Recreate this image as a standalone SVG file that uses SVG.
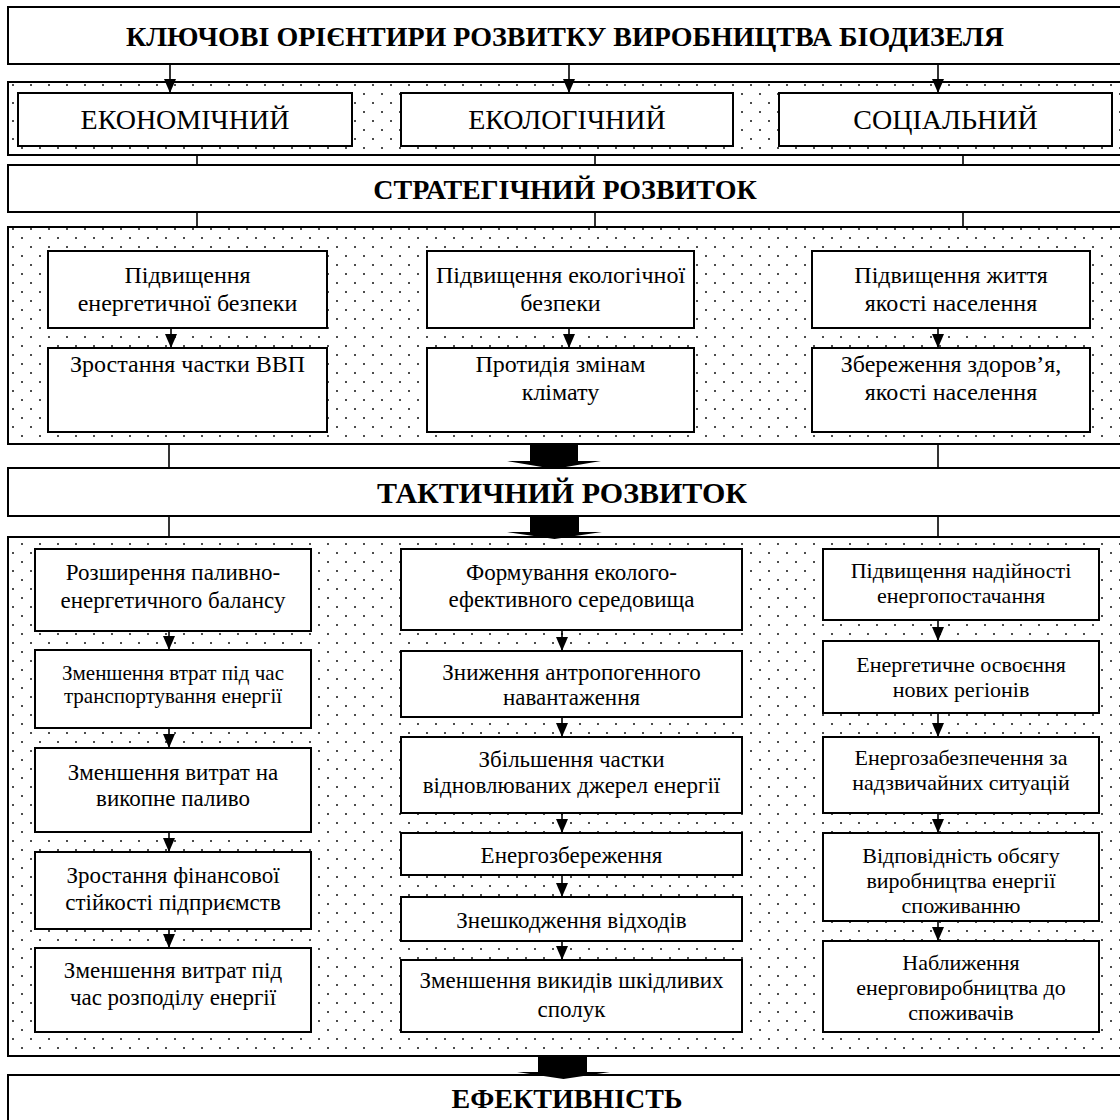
<svg xmlns="http://www.w3.org/2000/svg" width="1120" height="1120" viewBox="0 0 1120 1120">
<style>
.box{fill:#fff;stroke:#000;stroke-width:2}
.band{fill:url(#dots);stroke:#000;stroke-width:2}
.ln{stroke:#000;stroke-width:1.6;fill:none}
.ar{stroke:#000;stroke-width:1.6;fill:none;marker-end:url(#ah)}
.blk{fill:#000;stroke:none}
text{text-anchor:middle;fill:#000}
.h{font-weight:bold;font-size:28px}
.ht{font-weight:bold;font-size:30px}
.k{font-size:28px}
.m{font-size:24px}
.n{font-size:23px}
.c{font-size:22px}
.s{font-size:21px}
</style>
<defs>
<pattern id="dots" width="18" height="18" patternUnits="userSpaceOnUse">
<rect width="18" height="18" fill="#fff"/>
<circle cx="4" cy="4" r="1" fill="#111"/>
<circle cx="13" cy="13" r="1" fill="#111"/>
</pattern>
<marker id="ah" viewBox="0 0 14 13" refX="14" refY="6.5" markerWidth="14" markerHeight="13" markerUnits="userSpaceOnUse" orient="auto">
<path d="M0,0.5 L14,6.5 L0,12.5 z" fill="#000"/>
</marker>
</defs>
<g font-family="'Liberation Serif', 'Times New Roman', serif">
<!-- bands -->
<g id="band1"><rect class="band" x="8" y="82" width="1116" height="73"/></g>
<g id="band2"><rect class="band" x="8" y="227" width="1116" height="217"/></g>
<g id="band3"><rect class="band" x="8" y="537" width="1116" height="519"/></g>

<!-- headers -->
<g id="title"><rect class="box" x="8" y="7" width="1116" height="57"/>
<text class="h" x="565" y="46">КЛЮЧОВІ ОРІЄНТИРИ РОЗВИТКУ ВИРОБНИЦТВА БІОДИЗЕЛЯ</text></g>
<g id="strategic"><rect class="box" x="8" y="165" width="1116" height="47"/>
<text class="h" x="565" y="199">СТРАТЕГІЧНИЙ РОЗВИТОК</text></g>
<g id="tactical"><rect class="box" x="8" y="468" width="1116" height="48"/>
<text class="ht" x="562" y="503">ТАКТИЧНИЙ РОЗВИТОК</text></g>
<g id="efficiency"><rect class="box" x="8" y="1075" width="1116" height="60"/>
<text class="h" x="567" y="1108">ЕФЕКТИВНІСТЬ</text></g>

<!-- band1 nodes -->
<g id="econ"><rect class="box" x="18" y="93" width="334" height="53"/><text class="k" x="185" y="129">ЕКОНОМІЧНИЙ</text></g>
<g id="ecol"><rect class="box" x="401" y="93" width="332" height="53"/><text class="k" x="567" y="129">ЕКОЛОГІЧНИЙ</text></g>
<g id="soc"><rect class="box" x="779" y="93" width="333" height="53"/><text class="k" x="945.5" y="129">СОЦІАЛЬНИЙ</text></g>

<!-- band2 nodes -->
<g id="s_a1"><rect class="box" x="48" y="251" width="279" height="77"/><text class="m" x="187.5" y="283">Підвищення</text><text class="m" x="187.5" y="311">енергетичної безпеки</text></g>
<g id="s_a2"><rect class="box" x="48" y="348" width="279" height="84"/><text class="m" x="187.5" y="372">Зростання частки ВВП</text></g>
<g id="s_b1"><rect class="box" x="427" y="251" width="267" height="77"/><text class="m" x="560.5" y="283">Підвищення екологічної</text><text class="m" x="560.5" y="311">безпеки</text></g>
<g id="s_b2"><rect class="box" x="427" y="348" width="267" height="84"/><text class="m" x="560.5" y="372">Протидія змінам</text><text class="m" x="560.5" y="400">клімату</text></g>
<g id="s_c1"><rect class="box" x="812" y="251" width="278" height="77"/><text class="m" x="951" y="283">Підвищення життя</text><text class="m" x="951" y="311">якості населення</text></g>
<g id="s_c2"><rect class="box" x="812" y="348" width="278" height="84"/><text class="m" x="951" y="372">Збереження здоров’я,</text><text class="m" x="951" y="400">якості населення</text></g>

<!-- band3 column A -->
<g id="t_a1"><rect class="box" x="35" y="549" width="276" height="82"/><text class="n" x="173" y="580">Розширення паливно-</text><text class="n" x="173" y="608">енергетичного балансу</text></g>
<g id="t_a2"><rect class="box" x="35" y="650" width="276" height="78"/><text class="s" x="173" y="680">Зменшення втрат під час</text><text class="s" x="173" y="703">транспортування енергії</text></g>
<g id="t_a3"><rect class="box" x="35" y="748" width="276" height="84"/><text class="n" x="173" y="780">Зменшення витрат на</text><text class="n" x="173" y="806">викопне паливо</text></g>
<g id="t_a4"><rect class="box" x="35" y="852" width="276" height="77"/><text class="n" x="173" y="883">Зростання фінансової</text><text class="n" x="173" y="910">стійкості підприємств</text></g>
<g id="t_a5"><rect class="box" x="35" y="948" width="276" height="84"/><text class="n" x="173" y="978">Зменшення витрат під</text><text class="n" x="173" y="1005">час розподілу енергії</text></g>

<!-- band3 column B -->
<g id="t_b1"><rect class="box" x="401" y="549" width="341" height="81"/><text class="n" x="571.5" y="580">Формування еколого-</text><text class="n" x="571.5" y="607">ефективного середовища</text></g>
<g id="t_b2"><rect class="box" x="401" y="651" width="341" height="66"/><text class="n" x="571.5" y="680">Зниження антропогенного</text><text class="n" x="571.5" y="705">навантаження</text></g>
<g id="t_b3"><rect class="box" x="401" y="737" width="341" height="76"/><text class="n" x="571.5" y="767">Збільшення частки</text><text class="n" x="571.5" y="793">відновлюваних джерел енергії</text></g>
<g id="t_b4"><rect class="box" x="401" y="833" width="341" height="42"/><text class="n" x="571.5" y="863">Енергозбереження</text></g>
<g id="t_b5"><rect class="box" x="401" y="897" width="341" height="44"/><text class="n" x="571.5" y="928">Знешкодження відходів</text></g>
<g id="t_b6"><rect class="box" x="401" y="960" width="341" height="72"/><text class="n" x="571.5" y="988">Зменшення викидів шкідливих</text><text class="n" x="571.5" y="1017">сполук</text></g>

<!-- band3 column C -->
<g id="t_c1"><rect class="box" x="823" y="549" width="276" height="71"/><text class="c" x="961" y="578">Підвищення надійності</text><text class="c" x="961" y="603">енергопостачання</text></g>
<g id="t_c2"><rect class="box" x="823" y="641" width="276" height="72"/><text class="c" x="961" y="672">Енергетичне освоєння</text><text class="c" x="961" y="697">нових регіонів</text></g>
<g id="t_c3"><rect class="box" x="823" y="737" width="276" height="76"/><text class="c" x="961" y="765">Енергозабезпечення за</text><text class="c" x="961" y="790">надзвичайних ситуацій</text></g>
<g id="t_c4"><rect class="box" x="823" y="833" width="276" height="88"/><text class="c" x="961" y="863">Відповідність обсягу</text><text class="c" x="961" y="888">виробництва енергії</text><text class="c" x="961" y="913">споживанню</text></g>
<g id="t_c5"><rect class="box" x="823" y="941" width="276" height="91"/><text class="c" x="961" y="970">Наближення</text><text class="c" x="961" y="995">енерговиробництва до</text><text class="c" x="961" y="1020">споживачів</text></g>

<!-- connectors -->
<g id="connectors">
<line class="ar" x1="170" y1="64" x2="170" y2="93"/>
<line class="ar" x1="569" y1="64" x2="569" y2="93"/>
<line class="ar" x1="938" y1="64" x2="938" y2="93"/>
<line class="ln" x1="197" y1="155" x2="197" y2="165"/>
<line class="ln" x1="595" y1="155" x2="595" y2="165"/>
<line class="ln" x1="963" y1="155" x2="963" y2="165"/>
<line class="ln" x1="197" y1="212" x2="197" y2="227"/>
<line class="ln" x1="595" y1="212" x2="595" y2="227"/>
<line class="ln" x1="963" y1="212" x2="963" y2="227"/>
<line class="ar" x1="171" y1="328" x2="171" y2="348"/>
<line class="ar" x1="569" y1="328" x2="569" y2="348"/>
<line class="ar" x1="938" y1="328" x2="938" y2="348"/>
<line class="ln" x1="169" y1="444" x2="169" y2="468"/>
<line class="ln" x1="938" y1="444" x2="938" y2="468"/>
<line class="ln" x1="169" y1="516" x2="169" y2="537"/>
<line class="ln" x1="938" y1="516" x2="938" y2="537"/>
<line class="ar" x1="169" y1="631" x2="169" y2="650"/>
<line class="ar" x1="169" y1="728" x2="169" y2="748"/>
<line class="ar" x1="169" y1="832" x2="169" y2="852"/>
<line class="ar" x1="169" y1="929" x2="169" y2="948"/>
<line class="ar" x1="562" y1="630" x2="562" y2="651"/>
<line class="ar" x1="562" y1="717" x2="562" y2="737"/>
<line class="ar" x1="562" y1="813" x2="562" y2="833"/>
<line class="ar" x1="562" y1="875" x2="562" y2="897"/>
<line class="ar" x1="562" y1="941" x2="562" y2="960"/>
<line class="ar" x1="938" y1="620" x2="938" y2="641"/>
<line class="ar" x1="938" y1="713" x2="938" y2="737"/>
<line class="ar" x1="938" y1="813" x2="938" y2="833"/>
<line class="ar" x1="938" y1="921" x2="938" y2="941"/>
<polygon class="blk" points="530,444 578,444 578,461 601,461 554,469 507,461 530,461"/>
<polygon class="blk" points="530,516 579,516 579,532 602,532 554.5,539 507,532 530,532"/>
<polygon class="blk" points="538,1056 587,1056 587,1072 610,1072 563.5,1079 517,1072 538,1072"/>
</g>
</g>
</svg>
